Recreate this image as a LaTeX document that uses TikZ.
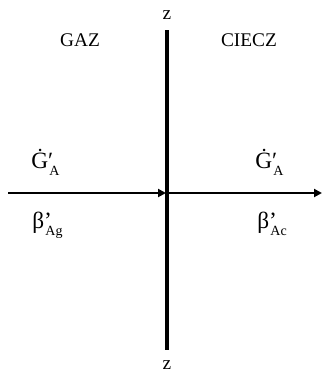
\documentclass[tikz,border=0pt]{standalone}
\usepackage{fontspec}
\setmainfont{Liberation Serif}
\usetikzlibrary{arrows.meta}
\tikzset{
  >={Triangle[length=6pt, width=6pt]},
  every node/.style={font=\fontsize{14.5}{17}\selectfont, inner sep=0pt},
  axisline/.style={line width=2.4pt},
  flowarrow/.style={->, line width=1.8pt},
  phaselabel/.style={anchor=center},
  quantity/.style={anchor=base west, font=\fontsize{17.5}{20}\selectfont}
}
% base symbol, mark over the subscript, lowered subscript
\newcommand{\marksub}[3]{#1\rlap{#2}\kern1pt\raisebox{-0.3em}{\fontsize{10.5}{11}\selectfont #3}}

\begin{document}
\begin{tikzpicture}[x=0.75pt, y=-0.75pt]
\useasboundingbox (0,0) rectangle (322,372);

% Interface axis
\coordinate (ztop) at (167,30);
\coordinate (zbot) at (167,350);
\draw[axisline] (ztop) -- (zbot);
\node[phaselabel] (zt) at (167,15) {z};
\node[phaselabel] (zb) at (167,365) {z};

% Phase names
\node[phaselabel] (gaz) at (80,40) {GAZ};
\node[phaselabel] (ciecz) at (249,40) {CIECZ};

% Flux arrows
\coordinate (instart) at (8,193);
\coordinate (iface) at (166,193);
\coordinate (outend) at (322,193);
\draw[flowarrow] (instart) -- (iface);
\draw[flowarrow] (ztop |- iface) -- (outend);

% Quantities
\node[quantity] (gl) at (31,168) {\marksub{\.{G}}{′}{A}};
\node[quantity] (gr) at (255,168) {\marksub{\.{G}}{′}{A}};
\node[quantity] (bl) at (32,228) {\marksub{β}{’}{Ag}};
\node[quantity] (br) at (257,228) {\marksub{β}{’}{Ac}};

\end{tikzpicture}
\end{document}
